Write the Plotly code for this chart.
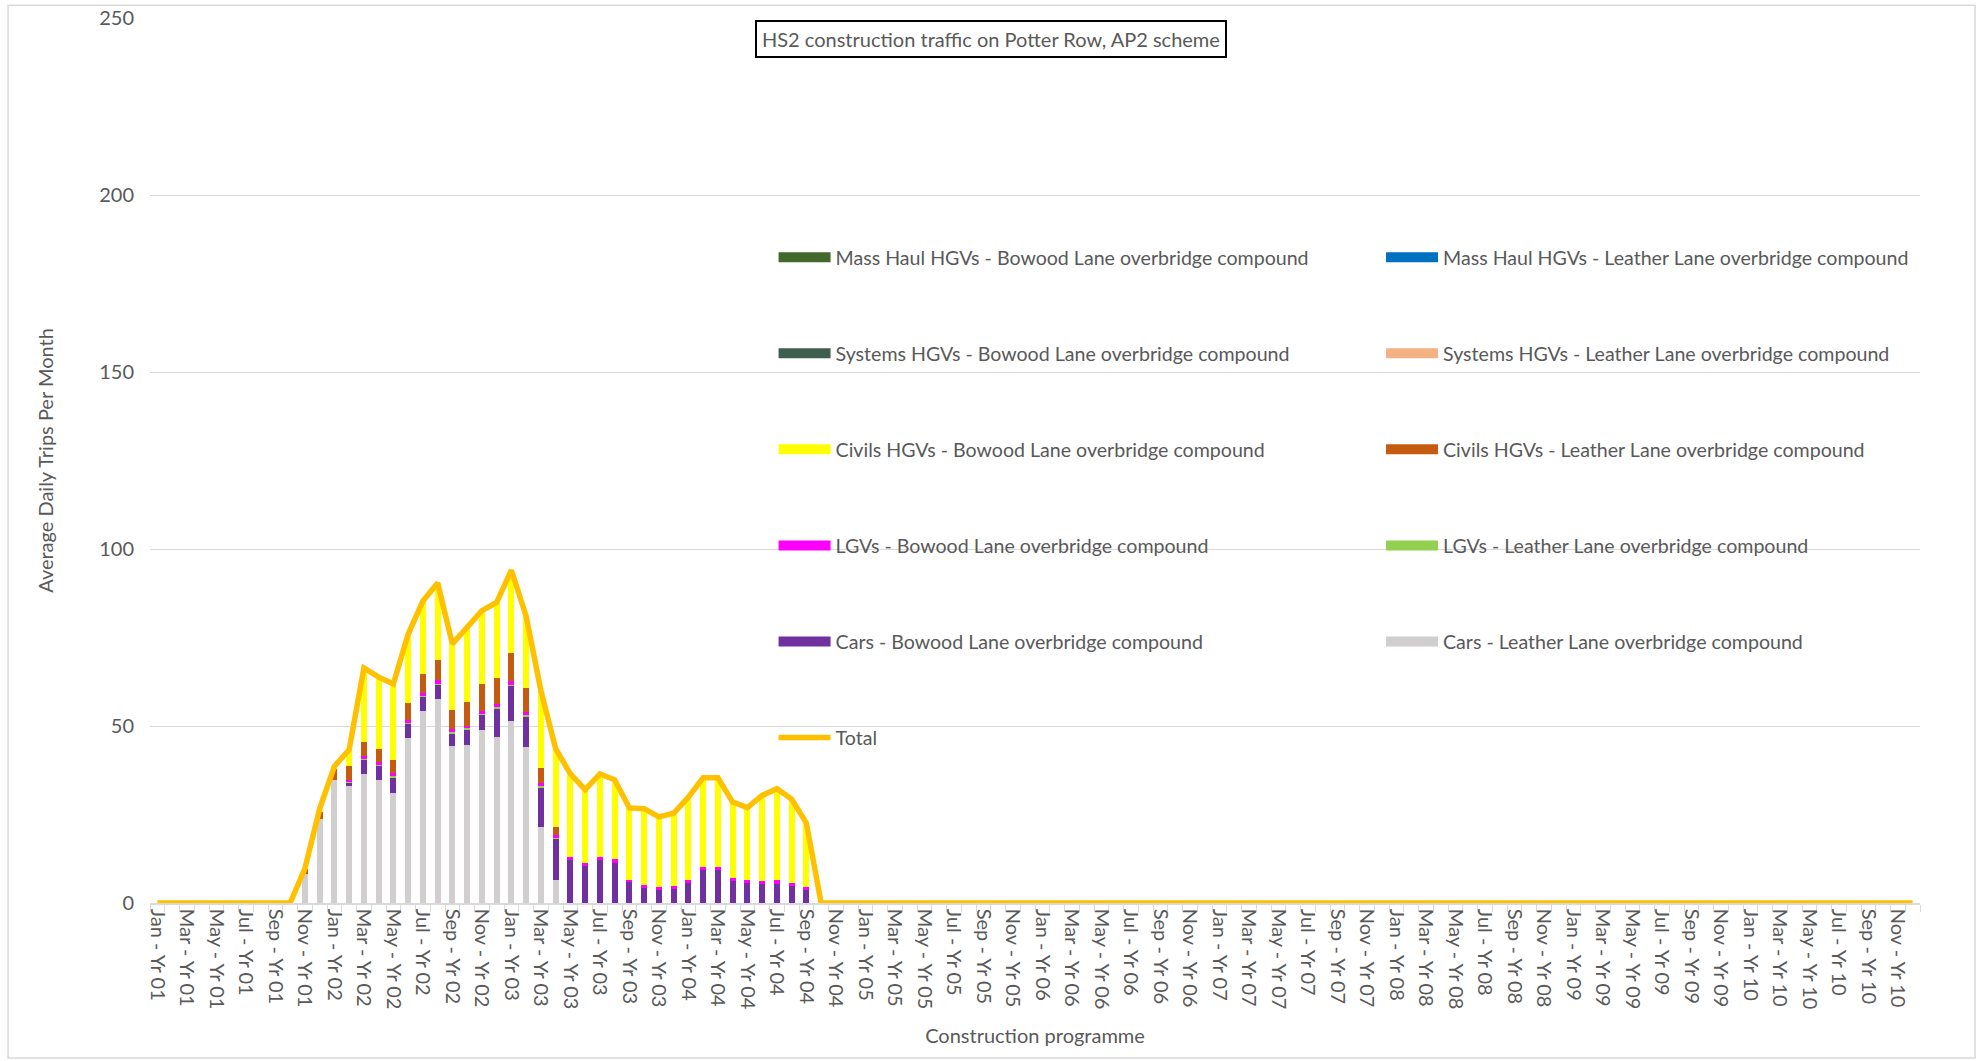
import plotly.graph_objects as go

# Monthly construction programme: Jan Yr 01 .. Dec Yr 10
MONTHS = ["Jan", "Feb", "Mar", "Apr", "May", "Jun",
          "Jul", "Aug", "Sep", "Oct", "Nov", "Dec"]
categories = [f"{m} - Yr {y:02d}" for y in range(1, 11) for m in MONTHS]

# Activity runs Nov Yr 01 .. Sep Yr 04; months outside that carry no trips
LEAD_ZEROS = 10
TAIL_ZEROS = 75

# Average daily trips per month, Nov Yr 01 .. Sep Yr 04
cars_leather_active = [8.3, 23.8, 34.8, 33.0, 36.5, 34.8, 31.1, 46.7, 54.1, 57.6,
                       44.4, 44.7, 49.0, 46.8, 51.3, 44.0, 21.4, 6.4, 0, 0,
                       0, 0, 0, 0, 0, 0, 0, 0, 0, 0,
                       0, 0, 0, 0, 0]
cars_bowood_active = [0, 0, 0, 1.1, 4.0, 3.9, 4.4, 3.9, 4.1, 4.1,
                      3.6, 4.3, 4.2, 8.2, 10.1, 8.8, 11.3, 11.7, 12.2, 10.4,
                      12.2, 11.4, 5.8, 4.3, 3.7, 4.0, 5.7, 9.4, 9.4, 6.1,
                      5.7, 5.4, 5.4, 4.75, 3.6]
lgvs_leather_active = [0, 0, 0, 0.3, 0.3, 0.3, 0.3, 0.3, 0.3, 0.3,
                       0.3, 0.3, 0.3, 0.3, 0.3, 0.3, 0.3, 0.3, 0, 0,
                       0, 0, 0, 0, 0, 0, 0, 0, 0, 0,
                       0, 0, 0, 0, 0]
lgvs_bowood_active = [0, 0, 0, 0.3, 0.8, 0.9, 0.9, 0.8, 0.8, 0.9,
                      0.8, 0.8, 0.8, 0.9, 1.0, 0.8, 0.8, 0.8, 0.75, 0.8,
                      0.75, 0.9, 0.75, 0.75, 0.75, 0.75, 0.9, 0.85, 0.85, 0.9,
                      0.85, 0.9, 1.0, 1.0, 0.85]
civils_leather_active = [1.4, 1.9, 3.0, 3.9, 4.0, 3.5, 3.6, 4.7, 5.3, 5.8,
                         5.3, 6.6, 7.6, 7.3, 7.8, 6.8, 4.4, 2.2, 0, 0,
                         0, 0, 0, 0, 0, 0, 0, 0, 0, 0,
                         0, 0, 0, 0, 0]
civils_bowood_active = [0, 0.9, 0.8, 4.7, 20.8, 20.4, 21.6, 19.5, 20.7, 21.7,
                        18.8, 21.4, 20.7, 21.4, 23.5, 20.3, 21.8, 22.2, 23.5, 20.8,
                        23.5, 22.5, 20.3, 21.6, 19.9, 20.6, 23.3, 25.1, 25.1, 21.5,
                        20.4, 24.1, 25.9, 23.6, 18.1]


def full_programme(active):
    return [0] * LEAD_ZEROS + active + [0] * TAIL_ZEROS


cars_leather = full_programme(cars_leather_active)
cars_bowood = full_programme(cars_bowood_active)
lgvs_leather = full_programme(lgvs_leather_active)
lgvs_bowood = full_programme(lgvs_bowood_active)
civils_leather = full_programme(civils_leather_active)
civils_bowood = full_programme(civils_bowood_active)
systems_leather = [0] * len(categories)
systems_bowood = [0] * len(categories)
mass_haul_leather = [0] * len(categories)
mass_haul_bowood = [0] * len(categories)

# Stack order, bottom to top
series = [
    ("Cars - Leather Lane overbridge compound", cars_leather, "#D0CECE", "legend2"),
    ("Cars - Bowood Lane overbridge compound", cars_bowood, "#7030A0", "legend"),
    ("LGVs - Leather Lane overbridge compound", lgvs_leather, "#92D050", "legend2"),
    ("LGVs - Bowood Lane overbridge compound", lgvs_bowood, "#FF00FF", "legend"),
    ("Civils HGVs - Leather Lane overbridge compound", civils_leather, "#C55A11", "legend2"),
    ("Civils HGVs - Bowood Lane overbridge compound", civils_bowood, "#FFFF00", "legend"),
    ("Systems HGVs - Leather Lane overbridge compound", systems_leather, "#F4B183", "legend2"),
    ("Systems HGVs - Bowood Lane overbridge compound", systems_bowood, "#3F5E50", "legend"),
    ("Mass Haul HGVs - Leather Lane overbridge compound", mass_haul_leather, "#0070C0", "legend2"),
    ("Mass Haul HGVs - Bowood Lane overbridge compound", mass_haul_bowood, "#43682B", "legend"),
]

total = [round(sum(vals), 2) for vals in zip(*[s[1] for s in series])]

TEXT = "#595959"
GRID = "#D9D9D9"
FONT = "Lato"

fig = go.Figure()

for name, vals, color, _ in series:
    fig.add_trace(go.Bar(
        x=categories, y=vals, name=name,
        marker=dict(color=color, line=dict(width=0)),
        showlegend=False,
    ))

# Legend keys drawn as wide bands, listed top series first
for name, vals, color, legend_id in reversed(series):
    fig.add_trace(go.Scatter(
        x=[None], y=[None], mode="lines", name=name,
        line=dict(color=color, width=11),
        legend=legend_id, legendgroup=name, hoverinfo="skip",
    ))

fig.add_trace(go.Scatter(
    x=categories, y=total, name="Total", mode="lines",
    line=dict(color="#FFC000", width=5.5),
    legend="legend", legendgroup="Total",
))

tick_text = [c if i % 2 == 0 else "" for i, c in enumerate(categories)]

legend_common = dict(
    xanchor="left", yanchor="top", y=0.7515,
    bgcolor="rgba(0,0,0,0)", borderwidth=0,
    traceorder="grouped", tracegroupgap=67.6, itemwidth=52,
    font=dict(family=FONT, size=19.6, color=TEXT),
)

fig.update_layout(
    width=1984, height=1061,
    margin=dict(l=150, r=64, t=18, b=158, autoexpand=False),
    plot_bgcolor="white", paper_bgcolor="white",
    barmode="stack", bargap=0.59,
    font=dict(family=FONT, size=20, color=TEXT),
    xaxis=dict(
        type="category", tickmode="array", tickvals=categories, ticktext=tick_text,
        tickangle=90, tickson="boundaries", ticks="outside", ticklen=7,
        tickcolor=GRID, tickwidth=1.3, showline=True, linecolor=GRID, linewidth=1.5,
        showgrid=False, tickfont=dict(family=FONT, size=20, color=TEXT),
        title=dict(text="Construction programme", standoff=20,
                   font=dict(family=FONT, size=20, color=TEXT)),
    ),
    yaxis=dict(
        range=[0, 250], dtick=50, showgrid=True, gridcolor=GRID, gridwidth=1.3,
        showline=False, zeroline=False, ticks="", ticklabelstandoff=15,
        tickfont=dict(family=FONT, size=20, color=TEXT),
        title=dict(text="Average Daily Trips Per Month", standoff=40,
                   font=dict(family=FONT, size=20, color=TEXT)),
    ),
    legend=dict(x=0.3523, **legend_common),
    legend2=dict(x=0.6955, **legend_common),
    shapes=[
        # legend panel
        dict(type="rect", xref="paper", yref="paper", x0=0.3316, x1=1.0,
             y0=0.156, y1=0.777, fillcolor="white", line=dict(width=0),
             layer="between"),
        # chart frame
        dict(type="rect", xref="paper", yref="paper", x0=-0.0802, x1=1.0311,
             y0=-0.175, y1=1.0143, line=dict(color=GRID, width=1.5),
             fillcolor="rgba(0,0,0,0)", layer="above"),
    ],
    annotations=[
        dict(text="HS2 construction traffic on Potter Row, AP2 scheme",
             xref="paper", yref="paper", x=0.475, y=0.976,
             xanchor="center", yanchor="middle", showarrow=False,
             font=dict(family=FONT, size=20, color=TEXT),
             bordercolor="black", borderwidth=2, borderpad=5, bgcolor="white"),
    ],
)

fig.write_html("out.html")
